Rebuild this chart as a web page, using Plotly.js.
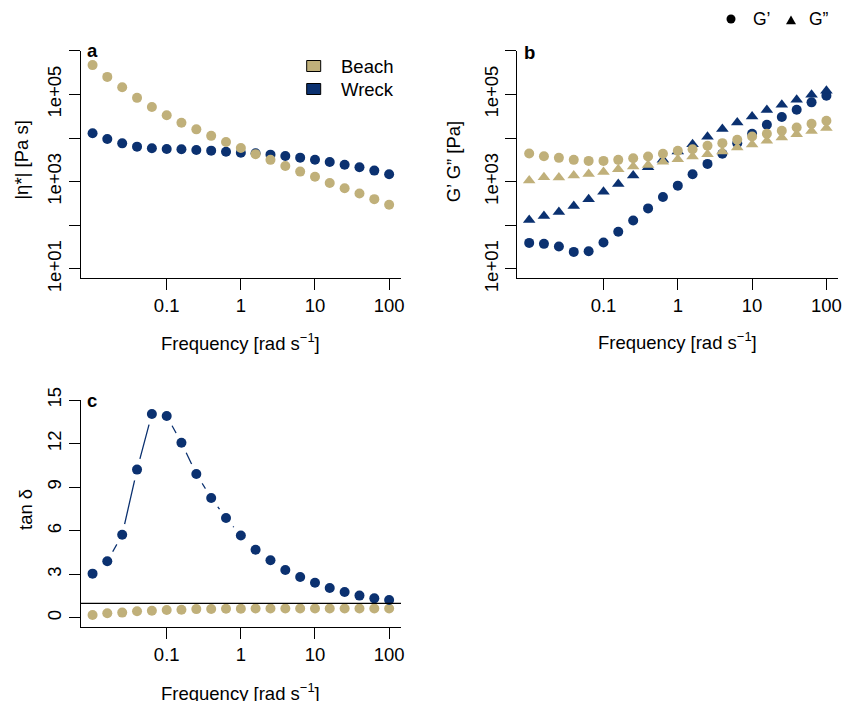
<!DOCTYPE html>
<html><head><meta charset="utf-8">
<script src="https://cdn.plot.ly/plotly-3.0.1.min.js"></script>
<style>html,body{margin:0;padding:0;background:#fff}#chart{width:843px;height:701px}</style>
</head><body><div id="chart"></div>
<script>
// ---- data ----
const freq = [0.01, 0.0158, 0.0251, 0.0398, 0.0631, 0.1, 0.158, 0.251, 0.398, 0.631, 1, 1.58, 2.51, 3.98, 6.31, 10, 15.8, 25.1, 39.8, 63.1, 100];
const etaBeach = [468000, 251000, 145000, 83200, 51300, 33100, 22400, 15800, 11200, 8130, 5890, 4270, 3160, 2290, 1700, 1290, 933, 708, 537, 398, 295];
const etaWreck = [12800, 9480, 7550, 6340, 5810, 5600, 5510, 5310, 5130, 4860, 4610, 4460, 4160, 3870, 3550, 3190, 2820, 2450, 2130, 1790, 1480];
const gpBeach  = [4410, 3830, 3510, 3160, 2990, 2990, 3160, 3440, 3760, 4340, 5080, 5550, 6620, 7620, 9100, 10840, 12500, 14660, 17460, 21180, 24830];
const gppBeach = [1070, 1260, 1240, 1380, 1500, 1670, 1920, 2220, 2420, 2840, 3270, 3760, 4260, 4900, 6050, 7100, 8630, 10280, 12270, 14390, 16870];
const gpWreck  = [39.6, 37.6, 32.7, 24.6, 25.5, 40.4, 71.0, 129, 244, 445, 811, 1480, 2550, 4340, 7620, 12500, 20090, 30200, 44460, 65610, 93330];
const gppWreck = [132, 163, 201, 276, 394, 590, 885, 1380, 2140, 3160, 4900, 7230, 10670, 16000, 22750, 31260, 43750, 57940, 75510, 98400, 121600];
const tanWreck = [3.05, 3.90, 5.73, 10.21, 14.04, 13.90, 12.06, 9.91, 8.26, 6.88, 5.67, 4.70, 3.97, 3.30, 2.82, 2.43, 2.06, 1.79, 1.54, 1.35, 1.24];
const tanBeach = [0.21, 0.32, 0.37, 0.46, 0.50, 0.55, 0.57, 0.61, 0.62, 0.64, 0.64, 0.65, 0.65, 0.65, 0.65, 0.65, 0.65, 0.65, 0.65, 0.65, 0.65];
const groups = ['Beach', 'Wreck'];
const xTickVals = [0.1, 1, 10, 100];
const xTickText = ['0.1', '1', '10', '100'];
const yLogTickVals = [10, 1000, 100000];
const yLogTickText = ['1e+01', '1e+03', '1e+05'];
const yLogMinorVals = [100, 10000, 1000000];
const yTanTickVals = [0, 3, 6, 9, 12, 15];
const yTanTickText = ['0', '3', '6', '9', '12', '15'];

// ---- styling ----
const TAN = '#C0B07A', NAVY = '#0B3170';
const W = 843, H = 701;
const px = v => v / W, py = v => 1 - v / H;
const FONT = 'Liberation Sans, Arial, Helvetica, sans-serif';
const FS = 18.5;
const MS = 10;

function circ(x, y, color, xa, ya) {
  return {type: 'scatter', mode: 'markers', x: x, y: y, xaxis: xa, yaxis: ya,
    marker: {symbol: 'circle', size: MS, color: color, line: {width: 0}}, hoverinfo: 'skip'};
}
function tri(x, y, color, xa, ya) {
  return {type: 'scatter', mode: 'markers', x: x, y: y, xaxis: xa, yaxis: ya,
    marker: {symbol: 'triangle-up', size: 11, color: color, line: {width: 0}}, hoverinfo: 'skip'};
}

const traces = [
  // panel a
  circ(freq, etaWreck, NAVY, 'x', 'y'),
  circ(freq, etaBeach, TAN, 'x', 'y'),
  // panel b
  circ(freq, gpWreck, NAVY, 'x2', 'y2'),
  tri(freq, gppWreck, NAVY, 'x2', 'y2'),
  circ(freq, gpBeach, TAN, 'x2', 'y2'),
  tri(freq, gppBeach, TAN, 'x2', 'y2'),
  // panel c  (type="b": line with gaps around points)
  {type: 'scatter', mode: 'lines', x: freq, y: tanWreck, xaxis: 'x3', yaxis: 'y3',
   line: {color: NAVY, width: 1.3}, hoverinfo: 'skip'},
  {type: 'scatter', mode: 'markers', x: freq, y: tanWreck, xaxis: 'x3', yaxis: 'y3',
   marker: {size: 22, color: '#ffffff', line: {width: 0}}, hoverinfo: 'skip'},
  circ(freq, tanBeach, TAN, 'x3', 'y3'),
  circ(freq, tanWreck, NAVY, 'x3', 'y3')
];

function xAxis(domain, anchor) {
  return {domain: domain, anchor: anchor, type: 'log', range: [-2.16, 2.16],
    tickmode: 'array', tickvals: xTickVals, ticktext: xTickText,
    ticks: 'outside', ticklen: 11, tickwidth: 1, tickcolor: '#000',
    showline: true, linecolor: '#000', linewidth: 1,
    showgrid: false, zeroline: false, tickfont: {family: FONT, size: FS, color: '#000'},
    fixedrange: true};
}
function yAxis(domain, anchor, type, range, vals, text, minorVals) {
  const ax = {domain: domain, anchor: anchor, type: type, range: range,
    tickmode: 'array', tickvals: vals, ticktext: text, tickangle: -90,
    ticks: 'outside', ticklen: 11, tickwidth: 1, tickcolor: '#000',
    showline: true, linecolor: '#000', linewidth: 1,
    showgrid: false, zeroline: false, tickfont: {family: FONT, size: FS, color: '#000'},
    fixedrange: true};
  if (minorVals) {
    ax.minor = {tickmode: 'array', tickvals: minorVals, ticks: 'outside', ticklen: 11,
      tickwidth: 1, tickcolor: '#000', showgrid: false};
  }
  return ax;
}

const xDomA = [px(80.7), px(401)];
const xDomB = [px(517.3), px(838.3)];
const yDomAB = [py(277.7), py(50.7)];
const yDomC = [py(626.7), py(400)];

function ann(text, x, y, opts) {
  return Object.assign({text: text, x: px(x), y: py(y), xref: 'paper', yref: 'paper',
    showarrow: false, xanchor: 'center', yanchor: 'middle',
    font: {family: FONT, size: FS, color: '#000'}}, opts || {});
}

const freqTitle = 'Frequency [rad s<sup>\u22121</sup>]';
const LEGF = {family: FONT, size: 17.5, color: '#000'};
const annotations = [
  ann('<b>a</b>', 92, 50.5),
  ann('<b>b</b>', 529.3, 52),
  ann('<b>c</b>', 91.5, 400),
  ann(freqTitle, 240.8, 341.7),
  ann(freqTitle, 677.7, 340.7),
  ann(freqTitle, 240.8, 691.7),
  ann('|\u03b7*| [Pa s]', 20.7, 160, {textangle: -90}),
  ann('G\u2019 G\u201d [Pa]', 453.3, 161, {textangle: -90}),
  ann('tan \u03b4', 25, 510, {textangle: -90}),
  ann(groups[0], 339.3, 66.5, {xanchor: 'left'}),
  ann(groups[1], 339.3, 89, {xanchor: 'left'}),
  ann('G\u2019', 750.5, 19.5, {xanchor: 'left', font: LEGF}),
  ann('G\u201d', 806.5, 19.5, {xanchor: 'left', font: LEGF})
];

const triPath = 'M ' + px(786) + ' ' + py(24.2) + ' L ' + px(796) + ' ' + py(24.2) +
  ' L ' + px(791) + ' ' + py(15.4) + ' Z';
const shapes = [
  {type: 'line', xref: 'x3 domain', yref: 'y3', x0: 0, x1: 1, y0: 1, y1: 1,
   line: {color: '#000', width: 1.2}, layer: 'above'},
  {type: 'rect', xref: 'paper', yref: 'paper', x0: px(306.7), x1: px(320.7), y0: py(71.5), y1: py(60.5),
   fillcolor: TAN, line: {color: '#000', width: 1}},
  {type: 'rect', xref: 'paper', yref: 'paper', x0: px(306.7), x1: px(320.7), y0: py(94.5), y1: py(83.5),
   fillcolor: NAVY, line: {color: '#000', width: 1}},
  {type: 'circle', xref: 'paper', yref: 'paper', x0: px(726.5), x1: px(735.5), y0: py(23.5), y1: py(14.5),
   fillcolor: '#000', line: {width: 0}},
  {type: 'path', xref: 'paper', yref: 'paper', path: triPath, fillcolor: '#000', line: {width: 0}}
];

const layout = {
  width: W, height: H, margin: {l: 0, r: 0, t: 0, b: 0},
  paper_bgcolor: '#fff', plot_bgcolor: '#fff', showlegend: false,
  font: {family: FONT, size: FS, color: '#000'},
  xaxis: xAxis(xDomA, 'y'),
  xaxis2: xAxis(xDomB, 'y2'),
  xaxis3: xAxis(xDomA, 'y3'),
  yaxis: yAxis(yDomAB, 'x', 'log', [0.8, 6.0], yLogTickVals, yLogTickText, yLogMinorVals),
  yaxis2: yAxis(yDomAB, 'x2', 'log', [0.8, 6.0], yLogTickVals, yLogTickText, yLogMinorVals),
  yaxis3: yAxis(yDomC, 'x3', 'linear', [-0.6, 15], yTanTickVals, yTanTickText),
  annotations: annotations,
  shapes: shapes
};

Plotly.newPlot('chart', traces, layout, {staticPlot: true, displayModeBar: false});
</script></body></html>
